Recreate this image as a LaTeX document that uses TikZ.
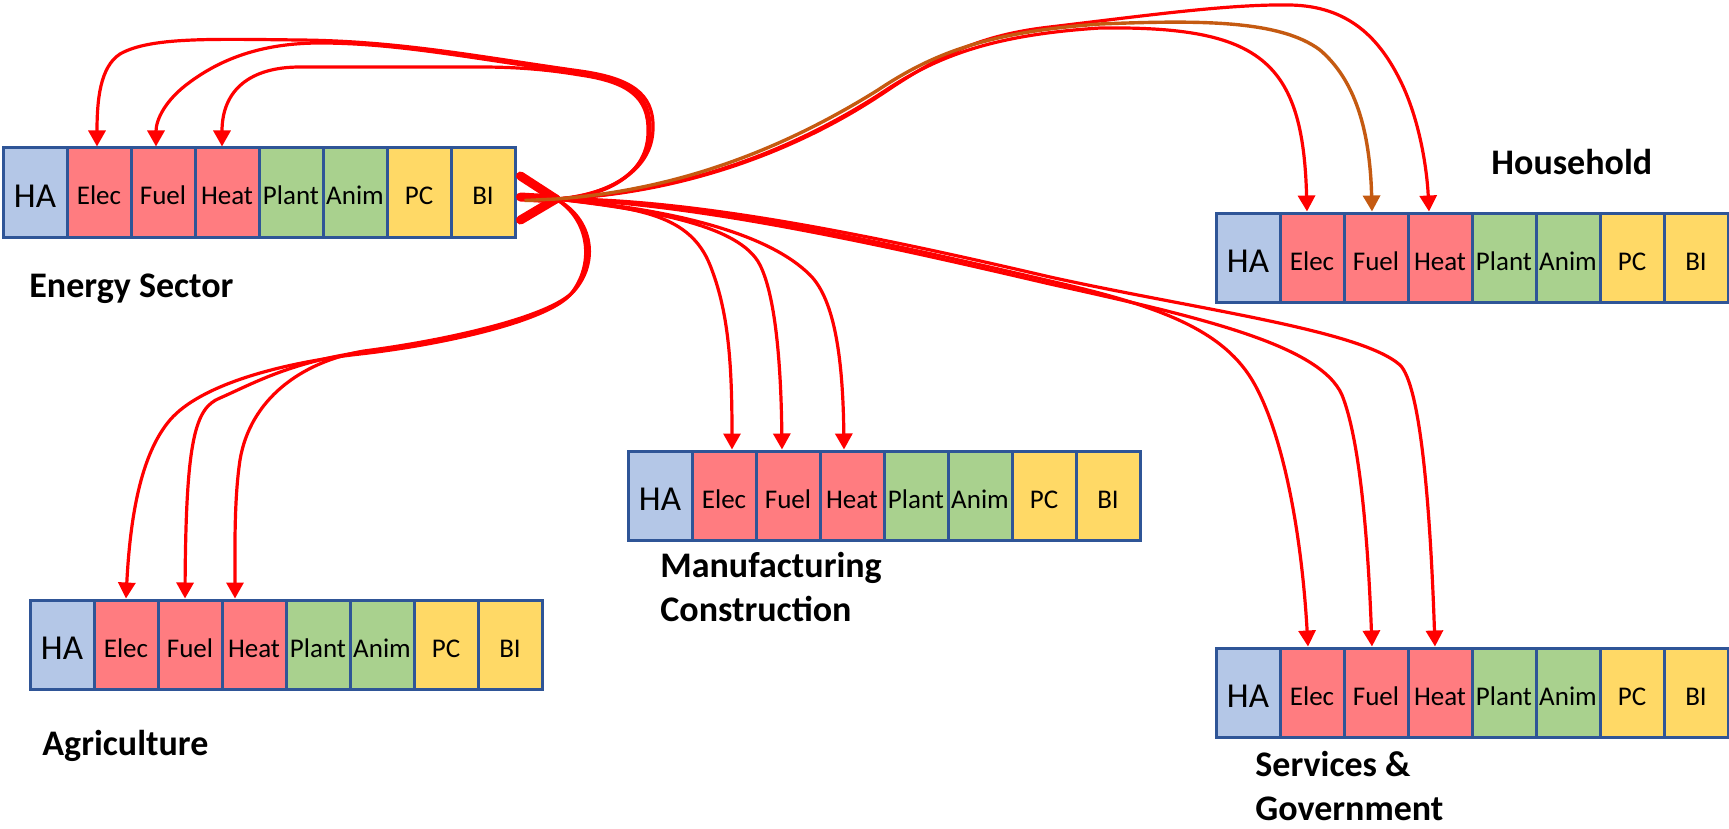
\documentclass[tikz,border=0pt]{standalone}
\usepackage{fontspec}
\setmainfont{Carlito}
\usetikzlibrary{arrows.meta,calc}
\definecolor{haC}{HTML}{B4C7E7}
\definecolor{enC}{HTML}{FF7C80}
\definecolor{grC}{HTML}{A9D18E}
\definecolor{yeC}{HTML}{FFD966}
\definecolor{bordC}{HTML}{2F5597}
\definecolor{brownC}{HTML}{C55A11}
\tikzset{
  cell/.style={draw=bordC, line width=1.5pt, minimum width=32pt, minimum height=44.5pt,
    inner sep=0pt, text depth=0pt, text height=12.5pt, font=\fontsize{13.5}{15}\selectfont},
  hacell/.style={cell, fill=haC, text height=15.1pt, font=\fontsize{17.5}{20}\selectfont},
  lab/.style={font=\bfseries\fontsize{18}{22}\selectfont, inner sep=0pt, anchor=base west},
  flow/.style={draw=red, line width=1.6pt, -{Triangle[width=8.5pt,length=8pt]}},
  bflow/.style={flow, draw=brownC, line width=1.7pt},
  stub/.style={draw=red, line width=4.5pt, line cap=round}
}
\newcommand\sectorrow[3]{%
  \node[hacell] (#11) at ({#2+32},{#3+44.5}) {HA};
  \foreach \i/\t/\c in {2/Elec/enC,3/Fuel/enC,4/Heat/enC,5/Plant/grC,6/Anim/grC,7/PC/yeC,8/BI/yeC}{
    \node[cell, fill=\c] (#1\i) at ({#2+32+64*(\i-1)},{#3+44.5}) {\t};
  }%
}
\begin{document}
\begin{tikzpicture}[x=0.5pt,y=-0.5pt]
\useasboundingbox (0,0) rectangle (1729,829);

% sector boxes
\sectorrow{E}{3}{148}
\sectorrow{H}{1216}{213}
\sectorrow{M}{628}{451}
\sectorrow{A}{30}{600}
\sectorrow{S}{1216}{648}

% labels
\node[lab] (lE) at (29,297) {Energy Sector};
\node[lab] (lH) at (1491,175) {Household};
\node[lab] (lM1) at (660,577) {Manufacturing};
\node[lab] (lM2) at (660,621) {Construction};
\node[lab] (lA) at (42,755) {Agriculture};
\node[lab] (lS1) at (1255,776) {Services \&};
\node[lab] (lS2) at (1255,820) {Government};

% start points and hub
\coordinate (s1) at ([xshift=2pt,yshift=8.25pt]E8.east);
\coordinate (s2) at ([xshift=2pt,yshift=-2.25pt]E8.east);
\coordinate (s3) at ([xshift=2pt,yshift=-13.75pt]E8.east);
\coordinate (bs) at ([xshift=4pt,yshift=-4pt]E8.east);
\coordinate (hub) at (556,199);

% stubs
\draw[stub] (s1) -- (hub);
\draw[stub] (s2) -- (hub);
\draw[stub] (s3) -- (hub);

% loops back to Energy Sector
\draw[flow] (hub) .. controls (610,195) and (653,170) .. (653,128)
  .. controls (654,93) and (630,78) .. (580,71)
  .. controls (480,57) and (400,41) .. (300,40)
  .. controls (210,39) and (150,37) .. (120,54)
  .. controls (100,67) and (97,100) .. ([xshift=-1pt]E2.north);
\draw[flow] (hub) .. controls (610,196) and (650,170) .. (650,130)
  .. controls (651,95) and (630,80) .. (580,73)
  .. controls (480,60) and (400,43) .. (320,43)
  .. controls (260,43) and (220,60) .. (190,82)
  .. controls (165,100) and (156,120) .. ([xshift=-3.5pt]E3.north);
\draw[flow] (hub) .. controls (610,197) and (648,172) .. (648,132)
  .. controls (649,97) and (628,82) .. (580,75)
  .. controls (550,70) and (520,67) .. (480,67) -- (300,67)
  .. controls (250,67) and (222,90) .. ([xshift=-2.5pt]E4.north);

% to Household
\draw[flow] (hub) .. controls (680,193) and (790,152) .. (880,94)
  .. controls (935,57) and (990,35) .. (1100,28)
  .. controls (1260,26) and (1303,60) .. ([xshift=-2.5pt]H2.north);
\draw[flow] (hub) .. controls (680,194) and (795,152) .. (882,94)
  .. controls (940,55) and (980,35) .. (1050,27)
  .. controls (1150,15) and (1230,4) .. (1290,5)
  .. controls (1350,6) and (1380,40) .. (1400,80)
  .. controls (1420,120) and (1427,170) .. ([xshift=-5.5pt]H4.north);

% to Manufacturing Construction
\draw[flow] (hub) .. controls (640,208) and (690,215) .. (710,265)
  .. controls (728,310) and (732,360) .. ([xshift=4pt]M2.north);
\draw[flow] (hub) .. controls (650,210) and (740,225) .. (760,265)
  .. controls (775,295) and (781,360) .. ([xshift=-3pt]M3.north);
\draw[flow] (hub) .. controls (680,210) and (770,235) .. (810,275)
  .. controls (835,300) and (843,360) .. ([xshift=-4pt]M4.north);

% to Services & Government
\draw[flow] (hub) .. controls (700,200) and (900,246) .. (1050,281)
  .. controls (1160,306) and (1225,330) .. (1255,385)
  .. controls (1285,440) and (1302,540) .. ([xshift=-2pt]S2.north);
\draw[flow] (hub) .. controls (700,203) and (900,249) .. (1050,284)
  .. controls (1200,317) and (1320,345) .. (1342,395)
  .. controls (1360,440) and (1368,540) .. ([xshift=-2pt]S3.north);
\draw[flow] (hub) .. controls (700,198) and (900,242) .. (1050,277)
  .. controls (1200,310) and (1360,330) .. (1400,365)
  .. controls (1420,385) and (1430,500) .. ([xshift=-2.5pt]S4.north);

% to Agriculture
\draw[flow] (hub) .. controls (590,220) and (595,265) .. (570,295)
  .. controls (545,322) and (440,345) .. (360,354)
  .. controls (280,363) and (200,385) .. (170,420)
  .. controls (140,455) and (130,520) .. (A2.north);
\draw[flow] (hub) .. controls (592,220) and (597,264) .. (572,293)
  .. controls (547,320) and (440,343) .. (362,352)
  .. controls (290,362) and (250,385) .. (220,398)
  .. controls (195,408) and (186,440) .. ([xshift=-2.5pt]A3.north);
\draw[flow] (hub) .. controls (594,219) and (599,263) .. (574,291)
  .. controls (549,318) and (442,341) .. (364,351)
  .. controls (300,362) and (250,400) .. (240,460)
  .. controls (234,500) and (235,550) .. ([xshift=-9.5pt]A4.north);

% Household fuel (brown)
\draw[bflow] (bs) -- (hub) .. controls (680,190) and (785,148) .. (878,90)
  .. controls (935,52) and (990,32) .. (1100,24)
  .. controls (1200,20) and (1280,20) .. (1320,50)
  .. controls (1355,80) and (1370,130) .. ([xshift=-2pt]H3.north);
\end{tikzpicture}
\end{document}
